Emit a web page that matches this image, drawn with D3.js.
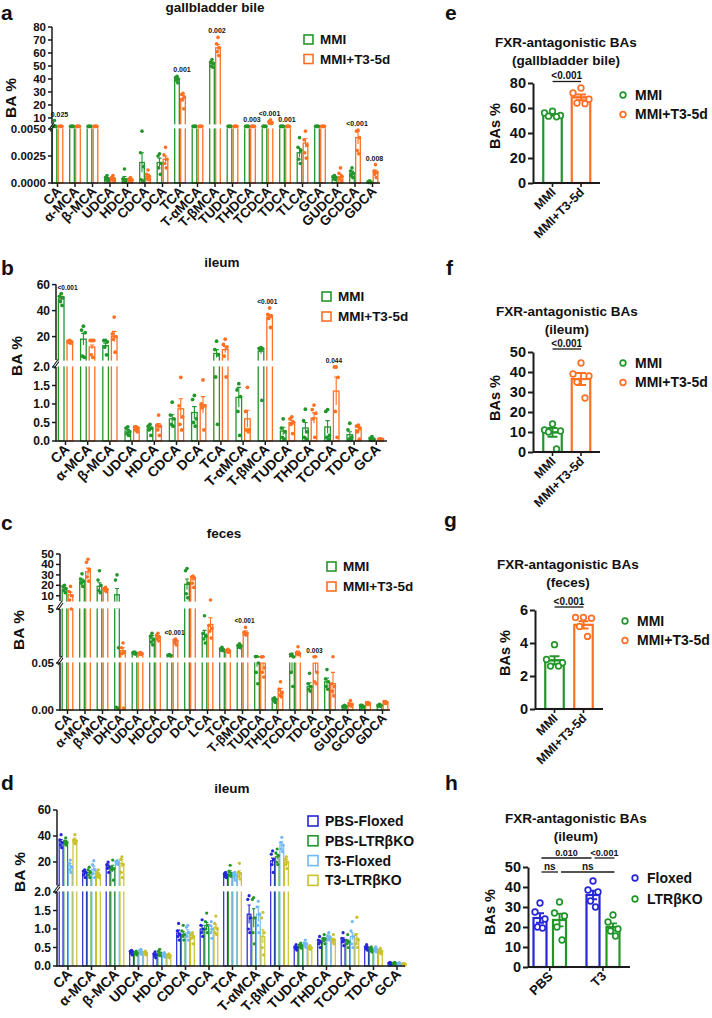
<!DOCTYPE html>
<html>
<head>
<meta charset="utf-8">
<script src="https://cdn.jsdelivr.net/npm/d3@7"></script>
<style>
body { margin: 0; background: #fff; }
svg text { font-family: "Liberation Sans", Arial, sans-serif; font-weight: bold; fill: #111; }
</style>
</head>
<body>
<svg id="fig" width="712" height="1018"></svg>
<script>
// ---------- panel a : gallbladder bile ----------
const aCats = ["CA", "α-MCA", "β-MCA", "UDCA", "HDCA", "CDCA", "DCA", "TCA", "T-αMCA", "T-βMCA", "TUDCA", "THDCA", "TCDCA", "TDCA", "TLCA", "GCA", "GUDCA", "GCDCA", "GDCA"];
const aMMIMean = [3.5, 2.3, 3, 0.0004, 0.0004, 0.0019, 0.0019, 40, 2.2, 52, 2, 2, 2.5, 2, 0.0028, 2, 0.0005, 0.0009, 0.0001];
const aMMISem = [1, 0.3, 0.4, 0.0001, 0.0002, 0.0009, 0.0004, 1.5, 0.2, 1, 0.2, 0.2, 0.2, 0.2, 0.0004, 0.2, 0.0001, 0.0002, 0.00003];
const aMMIPts = [[8, 3, 2.5, 2.2, 2], [2.6, 2.4, 2.2, 2.1, 2], [4, 3, 2.6, 2.3, 2.1], [0.0007, 0.0005, 0.0004, 0.0003, 0.0002],
  [0.0013, 0.0004, 0.0003, 0.0002, 0.0001], [0.0048, 0.0028, 0.0015, 0.0003, 0.0002], [0.0027, 0.0025, 0.0018, 0.0014, 0.0008],
  [42, 41, 40, 39, 37], [2.5, 2.3, 2.2, 2.1, 2], [55, 53, 52, 50, 49], [2.2, 2.1, 2, 2, 1.9], [2.2, 2.1, 2, 2, 1.9],
  [3, 2.6, 2.5, 2.4, 2.2], [2.2, 2.1, 2, 2, 1.9], [0.0042, 0.0033, 0.003, 0.0022, 0.0018], [2.2, 2.1, 2, 2, 1.9],
  [0.0007, 0.0006, 0.0005, 0.0004, 0.0003], [0.0014, 0.0011, 0.0009, 0.0007, 0.0005], [0.0002, 0.0001, 0.0001, 0.00005, 0.00003]];
const aT3Mean = [1.8, 1.7, 1.7, 0.0004, 0.0003, 0.0006, 0.0022, 25, 1.8, 64, 2, 3, 6.6, 2.5, 0.0037, 2, 0.0006, 0.0042, 0.001];
const aT3Sem = [0.1, 0.1, 0.1, 0.0001, 0.00005, 0.0002, 0.0003, 2.5, 0.1, 2.5, 0.1, 0.2, 0.4, 0.1, 0.0004, 0.1, 0.0002, 0.0006, 0.0002];
const aT3Pts = [[1.9, 1.8, 1.8, 1.7, 1.7], [1.8, 1.7, 1.7, 1.6, 1.6], [1.8, 1.7, 1.7, 1.6, 1.6], [0.0007, 0.0005, 0.0004, 0.0003, 0.0002],
  [0.0005, 0.0004, 0.0003, 0.0002, 0.0002], [0.0012, 0.0008, 0.0006, 0.0004, 0.0003], [0.0033, 0.0026, 0.0022, 0.0018, 0.0014],
  [29, 28, 26, 24, 17], [1.9, 1.8, 1.8, 1.7, 1.7], [72, 67, 64, 61, 58], [2.2, 2.1, 2, 2, 1.9], [3.4, 3.2, 3, 2.8, 2.6],
  [8.5, 7.2, 6.4, 5.9, 5.6], [2.8, 2.6, 2.5, 2.4, 2.3], [0.0048, 0.004, 0.0035, 0.0028, 0.0023], [2.2, 2.1, 2, 2, 1.9],
  [0.0014, 0.0009, 0.0006, 0.0004, 0.0002], [0.0049, 0.0048, 0.0042, 0.003, 0.0027], [0.0017, 0.0011, 0.001, 0.0008, 0.0005]];
const aPCats = ["CA", "TCA", "T-βMCA", "THDCA", "TCDCA", "TDCA", "GCDCA", "GDCA"];
const aPText = ["0.025", "0.001", "0.002", "0.003", "<0.001", "0.001", "<0.001", "0.008"];

// ---------- panel b : ileum ----------
const bCats = ["CA", "α-MCA", "β-MCA", "UDCA", "HDCA", "CDCA", "DCA", "TCA", "T-αMCA", "T-βMCA", "TUDCA", "THDCA", "TCDCA", "TDCA", "GCA"];
const bMMIMean = [49, 18, 13, 0.27, 0.33, 0.6, 0.77, 7, 1.18, 8.8, 0.27, 0.35, 0.38, 0.17, 0.06];
const bMMISem = [1.8, 4.5, 2, 0.04, 0.05, 0.11, 0.16, 3, 0.27, 2, 0.1, 0.15, 0.17, 0.08, 0.02];
const bMMIPts = [[53, 51, 50, 47, 44], [28, 25, 23, 5, 4], [17, 17, 16, 12, 6], [0.38, 0.35, 0.25, 0.2, 0.15], [0.45, 0.4, 0.35, 0.3, 0.15],
  [1.05, 0.7, 0.6, 0.45, 0.4], [1.23, 1.12, 0.6, 0.5, 0.4], [16.5, 10, 6, 1.73, 0.45], [1.55, 1.38, 1.2, 0.8, 0.15],
  [11.5, 11, 10.5, 10, 1.1], [0.6, 0.35, 0.25, 0.1, 0.05], [0.86, 0.55, 0.25, 0.1, 0.05], [0.85, 0.8, 0.15, 0.1, 0.05],
  [0.48, 0.3, 0.1, 0.05, 0.02], [0.12, 0.08, 0.05, 0.03, 0.02]];
const bT3Mean = [16, 12, 20, 0.32, 0.38, 0.87, 0.98, 10, 0.6, 35, 0.5, 0.62, 1.35, 0.3, 0.04];
const bT3Sem = [0.4, 1.5, 4, 0.03, 0.09, 0.27, 0.22, 2.5, 0.23, 2, 0.06, 0.14, 0.38, 0.07, 0.01];
const bT3Pts = [[17, 16.5, 16, 15.5, 15], [17, 17, 17, 6, 4], [35, 22, 20, 18, 8], [0.38, 0.38, 0.35, 0.3, 0.25], [0.7, 0.42, 0.4, 0.3, 0.15],
  [1.72, 0.95, 0.65, 0.45, 0.3], [1.65, 1.0, 0.95, 0.9, 0.3], [18, 14, 12, 5, 1.73], [1.45, 0.8, 0.3, 0.3, 0.25],
  [42, 37, 36, 34, 27], [0.65, 0.6, 0.5, 0.45, 0.2], [0.97, 0.85, 0.75, 0.6, 0.1], [2, 2, 1.72, 0.8, 0.1],
  [0.43, 0.4, 0.35, 0.25, 0.05], [0.06, 0.05, 0.04, 0.03, 0.02]];
const bPCats = ["CA", "T-βMCA", "TCDCA"];
const bPText = ["<0.001", "<0.001", "0.044"];

// ---------- panel c : feces ----------
const cCats = ["CA", "α-MCA", "β-MCA", "DHCA", "UDCA", "HDCA", "CDCA", "DCA", "LCA", "TCA", "T-βMCA", "TUDCA", "THDCA", "TCDCA", "TDCA", "GCA", "GUDCA", "GCDCA", "GDCA"];
const cMMIMean = [16.5, 24, 19, 11, 0.45, 2.0, 0.22, 21, 2.4, 0.85, 1.2, 0.058, 0.011, 0.1, 0.025, 0.03, 0.004, 0.004, 0.005];
const cMMISem = [1.2, 2, 3.5, 6, 0.04, 0.25, 0.03, 5, 0.4, 0.08, 0.1, 0.012, 0.001, 0.06, 0.004, 0.004, 0.0005, 0.0005, 0.0005];
const cMMIPts = [[20, 19, 17, 15, 13], [31, 26, 24, 22, 19], [34, 25, 20, 15, 13], [30, 25, 1.0, 0.003, 0.002], [0.55, 0.5, 0.45, 0.4, 0.35],
  [2.5, 2.2, 1.8, 1.6, 1.3], [0.3, 0.25, 0.2, 0.2, 0.15], [36, 34, 22, 12, 8], [4.3, 2.5, 2.2, 1.9, 1.5], [1.05, 0.9, 0.8, 0.75, 0.7],
  [1.4, 1.25, 1.2, 1.05, 1.0], [0.1, 0.09, 0.05, 0.04, 0.028], [0.013, 0.012, 0.011, 0.01, 0.008], [0.35, 0.3, 0.06, 0.04, 0.025],
  [0.039, 0.028, 0.025, 0.022, 0.02], [0.043, 0.033, 0.03, 0.025, 0.022], [0.005, 0.004, 0.004, 0.003, 0.003],
  [0.005, 0.005, 0.004, 0.003, 0.003], [0.006, 0.005, 0.005, 0.004, 0.004]];
const cT3Mean = [11, 33, 16, 0.7, 0.4, 2.1, 1.65, 26, 3.4, 0.7, 2.6, 0.05, 0.02, 0.5, 0.05, 0.028, 0.006, 0.007, 0.008];
const cT3Sem = [2.5, 3.5, 0.8, 0.3, 0.04, 0.15, 0.1, 2, 0.7, 0.06, 0.15, 0.008, 0.003, 0.16, 0.01, 0.012, 0.001, 0.0005, 0.0005];
const cT3Pts = [[19, 14, 10, 6, 5], [45, 42, 35, 28, 24], [18, 17, 16, 15, 14], [1.5, 1.0, 0.5, 0.4, 0.002], [0.5, 0.45, 0.4, 0.35, 0.3],
  [2.5, 2.3, 2.1, 1.9, 1.7], [1.9, 1.8, 1.7, 1.5, 1.3], [29, 28, 27, 22, 18], [6, 3.3, 3.0, 2.7, 2.0], [0.85, 0.75, 0.7, 0.6, 0.55],
  [3.1, 2.6, 2.5, 2.4, 2.3], [0.08, 0.06, 0.045, 0.04, 0.035], [0.03, 0.022, 0.018, 0.016, 0.014], [1.1, 0.5, 0.4, 0.35, 0.3],
  [0.08, 0.07, 0.04, 0.03, 0.028], [0.08, 0.028, 0.025, 0.02, 0.015], [0.01, 0.007, 0.006, 0.005, 0.004],
  [0.008, 0.008, 0.007, 0.006, 0.006], [0.009, 0.009, 0.008, 0.007, 0.007]];
const cPCats = ["CDCA", "T-βMCA", "TDCA"];
const cPText = ["<0.001", "<0.001", "0.003"];

// ---------- panel d : ileum, 4 groups ----------
const dCats = bCats;
const dPBSFloxMean = [35.5, 11.5, 17, 0.37, 0.3, 0.89, 1.0, 10, 1.4, 21, 0.5, 0.65, 0.7, 0.5, 0.07];
const dPBSFloxSem = [1.8, 1.2, 1.5, 0.03, 0.03, 0.08, 0.1, 0.7, 0.25, 2, 0.03, 0.05, 0.06, 0.03, 0.01];
const dPBSFloxPts = [[41, 37, 35, 33, 31], [14, 13, 12, 10, 8], [20, 18, 16, 15, 12], [0.42, 0.4, 0.38, 0.35, 0.3], [0.38, 0.33, 0.3, 0.27, 0.22],
  [1.15, 0.95, 0.85, 0.8, 0.7], [1.25, 1.1, 1.0, 0.9, 0.8], [12, 11, 10, 9, 8], [1.9, 1.8, 1.3, 1.0, 0.9], [28.5, 26, 22, 18, 12],
  [0.58, 0.52, 0.5, 0.47, 0.43], [0.8, 0.7, 0.65, 0.6, 0.5], [0.9, 0.75, 0.7, 0.65, 0.55], [0.58, 0.52, 0.5, 0.47, 0.43], [0.1, 0.08, 0.07, 0.06, 0.05]];
const dPBSKOMean = [35.5, 12, 15, 0.35, 0.35, 0.85, 1.1, 12, 1.3, 24, 0.55, 0.72, 0.65, 0.45, 0.07];
const dPBSKOSem = [1, 1.5, 2.5, 0.03, 0.03, 0.08, 0.08, 1.3, 0.25, 2, 0.03, 0.05, 0.05, 0.03, 0.01];
const dPBSKOPts = [[38.5, 36, 35, 34, 33], [16, 14, 12, 10, 8], [21.5, 16, 15, 14, 6], [0.4, 0.37, 0.35, 0.33, 0.3], [0.45, 0.4, 0.35, 0.3, 0.28],
  [1.1, 0.95, 0.85, 0.8, 0.7], [1.43, 1.2, 1.1, 1.0, 0.9], [17.5, 13, 11, 10, 9], [1.85, 1.8, 1.3, 0.9, 0.6], [30, 27, 25, 20, 18],
  [0.62, 0.57, 0.55, 0.52, 0.48], [0.85, 0.75, 0.72, 0.68, 0.6], [0.85, 0.7, 0.65, 0.6, 0.5], [0.52, 0.47, 0.45, 0.42, 0.38], [0.1, 0.08, 0.07, 0.06, 0.05]];
const dT3FloxMean = [17, 14.5, 20, 0.38, 0.3, 0.9, 1.0, 9.5, 1.4, 33, 0.6, 0.78, 0.8, 0.45, 0.06];
const dT3FloxSem = [2, 2.3, 0.6, 0.03, 0.03, 0.08, 0.08, 1.2, 0.2, 2.5, 0.04, 0.05, 0.1, 0.03, 0.01];
const dT3FloxPts = [[21.5, 19, 16, 14, 12], [21, 18, 14, 11, 8], [21, 20.5, 20, 19, 18], [0.45, 0.42, 0.38, 0.35, 0.32], [0.36, 0.33, 0.3, 0.27, 0.24],
  [1.1, 1.05, 0.9, 0.8, 0.7], [1.2, 1.1, 1.0, 0.9, 0.75], [12, 11, 10, 8, 6], [1.75, 1.6, 1.4, 1.1, 0.9], [39, 35, 33, 30, 28],
  [0.7, 0.62, 0.6, 0.55, 0.5], [0.9, 0.82, 0.78, 0.72, 0.7], [1.2, 0.95, 0.8, 0.6, 0.5], [0.52, 0.47, 0.45, 0.42, 0.38], [0.09, 0.07, 0.06, 0.05, 0.04]];
const dT3KOMean = [37, 10.5, 19, 0.35, 0.28, 0.78, 1.05, 11.5, 0.8, 20, 0.5, 0.7, 0.75, 0.4, 0.05];
const dT3KOSem = [1.5, 1.2, 3, 0.03, 0.03, 0.06, 0.08, 1.8, 0.18, 2, 0.03, 0.05, 0.12, 0.03, 0.01];
const dT3KOPts = [[41, 37, 36, 35, 34], [14, 12, 10, 9, 8], [24, 22, 18, 12, 8], [0.4, 0.37, 0.35, 0.33, 0.3], [0.33, 0.3, 0.28, 0.26, 0.22],
  [0.9, 0.85, 0.8, 0.75, 0.6], [1.35, 1.15, 1.0, 0.9, 0.85], [19, 12, 11, 9, 7], [1.45, 1.3, 0.9, 0.5, 0.3], [24, 22, 20, 18, 15],
  [0.55, 0.52, 0.5, 0.47, 0.45], [0.85, 0.72, 0.7, 0.65, 0.6], [1.32, 0.85, 0.7, 0.6, 0.5], [0.48, 0.42, 0.4, 0.37, 0.33], [0.07, 0.06, 0.05, 0.04, 0.03]];
const dGroups = ["PBS-Floxed", "PBS-LTRβKO", "T3-Floxed", "T3-LTRβKO"];

// ---------- panels e-h : FXR-antagonistic BAs ----------
const smallGroups = ["MMI", "MMI+T3-5d"];
const eMean = [54.5, 68.5], eSem = [0.8, 2.3];
const ePts = [[57.5, 56, 54, 53.5, 53], [76, 72, 67, 64, 63.5]];
const fMean = [9.8, 36.5], fSem = [2.2, 3];
const fPts = [[14, 11, 10.5, 10, 1.5], [44.5, 39, 38, 35, 27]];
const gMean = [2.95, 5.1], gSem = [0.25, 0.22];
const gPts = [[3.9, 3.0, 2.8, 2.6, 2.6], [5.55, 5.55, 5.5, 5.0, 4.4]];
const hTreat = ["PBS", "T3"];
const hGenotypes = ["Floxed", "LTRβKO"];
const hFloxMean = [24.5, 36], hFloxSem = [2.4, 2.1];
const hKOMean = [23.5, 20], hKOSem = [3.2, 1.8];
const hFloxPts = [[32, 27.5, 24, 20, 19.5], [43, 38.5, 37.5, 33, 30]];
const hKOPts = [[32.5, 27, 25.5, 20, 13.5], [26, 22.5, 19, 18, 15.5]];
const hSigText = ["0.010", "<0.001", "ns", "ns"];
const sigMain = "<0.001";

const GREEN = "#23962b", ORANGE = "#ff7024", BLUE = "#2626d8", LBLUE = "#72b8f6", OLIVE = "#c9c22e";
const svg = d3.select("#fig");
svg.append("rect").attr("width", 712).attr("height", 1018).attr("fill", "#fff");

function makeY(segs) {
  const scales = segs.map(s => d3.scaleLinear().domain(s.domain).range(s.range));
  return v => {
    for (let i = 0; i < segs.length; i++) {
      const s = segs[i];
      if (v >= s.domain[0] && v <= s.domain[1]) return scales[i](v);
      if (i < segs.length - 1 && v > s.domain[1] && v < segs[i + 1].domain[0])
        return (s.range[1] + segs[i + 1].range[0]) / 2;
    }
    return v < segs[0].domain[0] ? segs[0].range[0] : scales[segs.length - 1](v);
  };
}

function txt(g, x, y, s, size, anchor) {
  return g.append("text").attr("x", x).attr("y", y).attr("font-size", size)
    .attr("text-anchor", anchor || "start").text(s);
}

function breakChart(o) {
  const g = svg.append("g");
  const y = makeY(o.segs);
  const x = d3.scalePoint().domain(o.cats).range([o.x0, o.x0 + o.step * (o.cats.length - 1)]);
  const base = o.segs[0].range[0];
  const jit = [0, -1, 1, -0.5, 0.5];

  o.series.forEach((s, si) => {
    const off = o.offsets[si];
    const bg = g.append("g");
    bg.selectAll("rect").data(s.mean).join("rect")
      .attr("x", (d, i) => x(o.cats[i]) + off - o.barW / 2)
      .attr("y", d => y(d))
      .attr("width", o.barW)
      .attr("height", d => base - y(d))
      .attr("fill", "#fff").attr("stroke", s.color).attr("stroke-width", o.sw);
    const eb = s.mean.map((m, i) => ({ cx: x(o.cats[i]) + off, lo: y(Math.max(0, m - s.sem[i])), hi: y(m + s.sem[i]) }));
    bg.selectAll("path").data(eb).join("path")
      .attr("d", d => `M${d.cx},${d.lo}V${d.hi}M${d.cx - o.cap},${d.hi}H${d.cx + o.cap}`)
      .attr("stroke", s.color).attr("stroke-width", 1.1).attr("fill", "none");
  });

  // white gaps for the axis breaks
  for (let i = 0; i < o.segs.length - 1; i++) {
    const top = o.segs[i + 1].range[0], bot = o.segs[i].range[1];
    g.append("rect").attr("x", o.axisX - 8).attr("y", top + 0.6).attr("width", o.axisEnd - o.axisX + 8)
      .attr("height", bot - top - 1.2).attr("fill", "#fff");
  }

  o.series.forEach((s, si) => {
    const pts = s.pts.flatMap((arr, i) => arr.map((v, j) => ({ cx: x(o.cats[i]) + o.offsets[si] + jit[j] * o.jw, cy: y(v) })));
    g.append("g").selectAll("circle").data(pts).join("circle")
      .attr("cx", d => d.cx).attr("cy", d => d.cy).attr("r", o.r).attr("fill", s.color);
  });

  // y axis, one piece per segment
  const ax = g.append("g").attr("stroke", "#1a1a1a").attr("stroke-width", 1.5).attr("fill", "none");
  o.segs.forEach(sg => {
    ax.append("line").attr("x1", o.axisX).attr("x2", o.axisX).attr("y1", sg.range[0] + (sg === o.segs[0] ? 0.7 : 0)).attr("y2", sg.range[1]);
    sg.ticks.forEach(t => {
      ax.append("line").attr("x1", o.axisX - 4).attr("x2", o.axisX).attr("y1", y(t)).attr("y2", y(t));
      txt(g, o.axisX - 6, y(t), d3.format(sg.fmt)(t), o.tickFont, "end").attr("dy", "0.35em");
    });
  });
  for (let i = 0; i < o.segs.length - 1; i++) {
    const mid = (o.segs[i].range[1] + o.segs[i + 1].range[0]) / 2;
    ax.append("path").attr("d", `M${o.axisX - 3},${mid + 3}L${o.axisX + 2},${mid - 4}M${o.axisX - 2},${mid + 5}L${o.axisX + 3},${mid - 2}`)
      .attr("stroke-width", 1.1);
  }

  // x axis
  ax.append("line").attr("x1", o.axisX).attr("x2", o.axisEnd).attr("y1", base).attr("y2", base);
  o.cats.forEach(c => {
    ax.append("line").attr("x1", x(c)).attr("x2", x(c)).attr("y1", base).attr("y2", base + 4);
    g.append("text").attr("font-size", o.labFont).attr("text-anchor", "end")
      .attr("transform", `translate(${x(c) + o.labDx},${base + o.labDy}) rotate(-45)`).text(c);
  });

  // p values above the highest point
  o.pCats.forEach((c, k) => {
    const i = o.cats.indexOf(c);
    const top = d3.min(o.series, s => Math.min(y(d3.max(s.pts[i])), y(s.mean[i] + s.sem[i])));
    txt(g, x(c) + 2, top - 4, o.pText[k], o.pFont, "middle");
  });

  // labels, title, legend
  txt(g, o.letter[1], o.letter[2], o.letter[0], 21);
  txt(g, o.title[1], o.title[2], o.title[0], 13.5, "middle");
  g.append("text").attr("font-size", 15.5).attr("text-anchor", "middle").attr("dy", "0.35em")
    .attr("transform", `translate(${o.ylab[0]},${o.ylab[1]}) rotate(-90)`).text("BA %");
  o.series.forEach((s, si) => {
    const ly = o.legend.y + si * o.legend.dy;
    g.append("rect").attr("x", o.legend.x).attr("y", ly - o.legend.sq).attr("width", o.legend.sq).attr("height", o.legend.sq)
      .attr("fill", "#fff").attr("stroke", s.color).attr("stroke-width", 1.6);
    txt(g, o.legend.x + o.legend.sq + 7, ly, s.name, o.legend.font);
  });
}

breakChart({
  cats: aCats, x0: 57.5, step: 17.5, offsets: [-3, 3], barW: 4.6, sw: 1.3, cap: 2, r: 1.8, jw: 1.5,
  segs: [{ domain: [0, 0.005], range: [183, 129], ticks: [0, 0.0025, 0.005], fmt: ".4f" },
         { domain: [5.5, 80], range: [123.8, 27], ticks: [10, 20, 30, 40, 50, 60, 70, 80], fmt: "d" }],
  axisX: 52, axisEnd: 380, tickFont: 11.5, labFont: 13.5, labDx: 5, labDy: 9,
  series: [{ name: "MMI", color: GREEN, mean: aMMIMean, sem: aMMISem, pts: aMMIPts },
           { name: "MMI+T3-5d", color: ORANGE, mean: aT3Mean, sem: aT3Sem, pts: aT3Pts }],
  pCats: aPCats, pText: aPText, pFont: 7,
  letter: ["a", 1, 20], title: ["gallbladder bile", 215, 12], ylab: [11, 98],
  legend: { x: 304, y: 44, dy: 19.5, sq: 9, font: 13.5 }
});

breakChart({
  cats: bCats, x0: 65.5, step: 22.2, offsets: [-4.3, 4.3], barW: 5.6, sw: 1.3, cap: 2.2, r: 1.9, jw: 1.8,
  segs: [{ domain: [0, 2], range: [441, 367], ticks: [0, 0.5, 1, 1.5, 2], fmt: ".1f" },
         { domain: [2, 60], range: [360, 284.6], ticks: [20, 40, 60], fmt: "d" }],
  axisX: 56, axisEnd: 387, tickFont: 12, labFont: 14, labDx: 5, labDy: 9,
  series: [{ name: "MMI", color: GREEN, mean: bMMIMean, sem: bMMISem, pts: bMMIPts },
           { name: "MMI+T3-5d", color: ORANGE, mean: bT3Mean, sem: bT3Sem, pts: bT3Pts }],
  pCats: bPCats, pText: bPText, pFont: 6.5,
  letter: ["b", 1, 275], title: ["ileum", 222, 267], ylab: [17, 356],
  legend: { x: 322, y: 301, dy: 20, sq: 9, font: 13.5 }
});

breakChart({
  cats: cCats, x0: 67.5, step: 17.5, offsets: [-3, 3], barW: 4.6, sw: 1.3, cap: 2, r: 1.8, jw: 1.5,
  segs: [{ domain: [0, 0.05], range: [710, 663], ticks: [0, 0.05], fmt: ".2f" },
         { domain: [0.05, 5], range: [657, 609], ticks: [5], fmt: "d" },
         { domain: [5, 50], range: [601, 554], ticks: [10, 20, 30, 40, 50], fmt: "d" }],
  axisX: 60, axisEnd: 390, tickFont: 11.5, labFont: 13, labDx: 5, labDy: 9,
  series: [{ name: "MMI", color: GREEN, mean: cMMIMean, sem: cMMISem, pts: cMMIPts },
           { name: "MMI+T3-5d", color: ORANGE, mean: cT3Mean, sem: cT3Sem, pts: cT3Pts }],
  pCats: cPCats, pText: cPText, pFont: 6.5,
  letter: ["c", 1, 530], title: ["feces", 224, 538], ylab: [19, 630],
  legend: { x: 327, y: 571, dy: 20, sq: 9, font: 13.5 }
});

breakChart({
  cats: dCats, x0: 68, step: 23.5, offsets: [-6.9, -2.3, 2.3, 6.9], barW: 3.8, sw: 1.2, cap: 1.6, r: 1.6, jw: 1.3,
  segs: [{ domain: [0, 2], range: [966, 892], ticks: [0, 0.5, 1, 1.5, 2], fmt: ".1f" },
         { domain: [2, 60], range: [885.4, 810], ticks: [20, 40, 60], fmt: "d" }],
  axisX: 57, axisEnd: 405, tickFont: 12, labFont: 14, labDx: 5, labDy: 9,
  series: [{ name: dGroups[0], color: BLUE, mean: dPBSFloxMean, sem: dPBSFloxSem, pts: dPBSFloxPts },
           { name: dGroups[1], color: GREEN, mean: dPBSKOMean, sem: dPBSKOSem, pts: dPBSKOPts },
           { name: dGroups[2], color: LBLUE, mean: dT3FloxMean, sem: dT3FloxSem, pts: dT3FloxPts },
           { name: dGroups[3], color: OLIVE, mean: dT3KOMean, sem: dT3KOSem, pts: dT3KOPts }],
  pCats: [], pText: [], pFont: 7,
  letter: ["d", 1, 790], title: ["ileum", 232, 793], ylab: [20, 872],
  legend: { x: 308, y: 826, dy: 19.8, sq: 10, font: 14 }
});

// ---------- small bar charts ----------
function smallChart(o) {
  const g = svg.append("g");
  const y = d3.scaleLinear().domain(o.domain).range([o.y0, o.yTop]);
  const jit = [0, -1, 1, -0.5, 0.5];
  o.bars.forEach(b => {
    g.append("rect").attr("x", b.cx - o.bw / 2).attr("y", y(b.mean)).attr("width", o.bw).attr("height", o.y0 - y(b.mean))
      .attr("fill", "#fff").attr("stroke", b.color).attr("stroke-width", 2.2);
    g.append("path").attr("d", `M${b.cx},${y(b.mean - b.sem)}V${y(b.mean + b.sem)}M${b.cx - o.cap},${y(b.mean + b.sem)}H${b.cx + o.cap}M${b.cx - o.cap},${y(b.mean - b.sem)}H${b.cx + o.cap}M${b.cx - o.cap * 1.6},${y(b.mean)}H${b.cx + o.cap * 1.6}`)
      .attr("stroke", b.color).attr("stroke-width", 1.9).attr("fill", "none");
    g.append("g").selectAll("circle").data(b.pts).join("circle")
      .attr("cx", (d, j) => b.cx + jit[j] * o.jw).attr("cy", d => y(d)).attr("r", 2.8)
      .attr("fill", "#fff").attr("stroke", b.color).attr("stroke-width", 1.7);
  });
  const yAxis = g.append("g").attr("transform", `translate(${o.axisX},0)`)
    .call(d3.axisLeft(y).tickValues(o.ticks).tickSize(5).tickSizeOuter(0).tickFormat(d3.format("d")));
  yAxis.select(".domain").attr("stroke", "#1a1a1a").attr("stroke-width", 2);
  yAxis.selectAll(".tick line").attr("stroke", "#1a1a1a").attr("stroke-width", 2);
  yAxis.selectAll(".tick text").attr("font-size", 14.5).attr("font-family", null).attr("fill", "#111").attr("x", -7);
  g.append("line").attr("x1", o.axisX).attr("x2", o.xEnd).attr("y1", o.y0).attr("y2", o.y0)
    .attr("stroke", "#1a1a1a").attr("stroke-width", 2);
  o.xTicks.forEach(t => {
    g.append("line").attr("x1", t.x).attr("x2", t.x).attr("y1", o.y0).attr("y2", o.y0 + 4).attr("stroke", "#1a1a1a").attr("stroke-width", 1.6);
    g.append("text").attr("font-size", o.xFont || 12.5).attr("text-anchor", "end")
      .attr("transform", `translate(${t.x + 4},${o.y0 + 10}) rotate(-45)`).text(t.label);
  });
  o.sig.forEach(s => {
    g.append("line").attr("x1", s.x1).attr("x2", s.x2).attr("y1", s.y).attr("y2", s.y).attr("stroke", "#1a1a1a").attr("stroke-width", 1.3);
    txt(g, (s.x1 + s.x2) / 2, s.y - 2.5, s.text, s.font || 10, "middle");
  });
  txt(g, o.letter[1], o.letter[2], o.letter[0], 21);
  o.title.forEach((t, i) => txt(g, o.titleX, o.titleY + i * 17.5, t, 13.5, "middle"));
  g.append("text").attr("font-size", 14.5).attr("text-anchor", "middle").attr("dy", "0.35em")
    .attr("transform", `translate(${o.ylab[0]},${o.ylab[1]}) rotate(-90)`).text("BAs %");
  o.legend.items.forEach((it, i) => {
    const ly = o.legend.y + i * o.legend.dy;
    g.append("circle").attr("cx", o.legend.x).attr("cy", ly).attr("r", 2.8).attr("fill", "#fff")
      .attr("stroke", it.color).attr("stroke-width", 1.7);
    txt(g, o.legend.x + 12, ly, it.name, 14).attr("dy", "0.35em");
  });
}

function mmiChart(mean, sem, pts, cfg) {
  smallChart(Object.assign({
    bw: 18.5, cap: 5, jw: 8,
    bars: [{ cx: cfg.cx[0], mean: mean[0], sem: sem[0], pts: pts[0], color: GREEN },
           { cx: cfg.cx[1], mean: mean[1], sem: sem[1], pts: pts[1], color: ORANGE }],
    xTicks: [{ x: cfg.cx[0], label: smallGroups[0] }, { x: cfg.cx[1], label: smallGroups[1] }],
    sig: [{ x1: cfg.cx[0], x2: cfg.cx[1], y: cfg.sigY, text: sigMain }],
    legend: { x: cfg.legX, y: cfg.legY, dy: 19.5, items: [{ name: smallGroups[0], color: GREEN }, { name: smallGroups[1], color: ORANGE }] }
  }, cfg));
}

mmiChart(eMean, eSem, ePts, {
  cx: [552.5, 581], domain: [0, 80], ticks: [0, 20, 40, 60, 80], y0: 183, yTop: 83, axisX: 533, xEnd: 600,
  sigY: 81.5, letter: ["e", 445, 20], title: ["FXR-antagonistic BAs", "(gallbladder bile)"], titleX: 566, titleY: 47,
  ylab: [495, 126], legX: 623, legY: 95
});
mmiChart(fMean, fSem, fPts, {
  cx: [552.5, 581], domain: [0, 50], ticks: [0, 10, 20, 30, 40, 50], y0: 452, yTop: 352, axisX: 533, xEnd: 600,
  sigY: 349, letter: ["f", 446, 275], title: ["FXR-antagonistic BAs", "(ileum)"], titleX: 567, titleY: 316,
  ylab: [495, 398], legX: 623, legY: 363
});
mmiChart(gMean, gSem, gPts, {
  cx: [554.5, 583.5], domain: [0, 6], ticks: [0, 2, 4, 6], y0: 709, yTop: 610, axisX: 535, xEnd: 603,
  sigY: 607, letter: ["g", 444, 527], title: ["FXR-antagonistic BAs", "(feces)"], titleX: 568, titleY: 569,
  ylab: [505, 653], legX: 625, legY: 621
});

const hCx = [540, 559.5, 593, 613];
smallChart({
  bw: 13, cap: 4, jw: 5, domain: [0, 50], ticks: [0, 10, 20, 30, 40, 50], y0: 967, yTop: 867, axisX: 528, xEnd: 630, xFont: 13,
  bars: [{ cx: hCx[0], mean: hFloxMean[0], sem: hFloxSem[0], pts: hFloxPts[0], color: BLUE },
         { cx: hCx[1], mean: hKOMean[0], sem: hKOSem[0], pts: hKOPts[0], color: GREEN },
         { cx: hCx[2], mean: hFloxMean[1], sem: hFloxSem[1], pts: hFloxPts[1], color: BLUE },
         { cx: hCx[3], mean: hKOMean[1], sem: hKOSem[1], pts: hKOPts[1], color: GREEN }],
  xTicks: [{ x: (hCx[0] + hCx[1]) / 2, label: hTreat[0] }, { x: (hCx[2] + hCx[3]) / 2, label: hTreat[1] }],
  sig: [{ x1: hCx[0] + 1.5, x2: hCx[2] - 1.5, y: 858, text: hSigText[0], font: 9 },
        { x1: hCx[2] + 1.5, x2: hCx[3] + 1.5, y: 858, text: hSigText[1], font: 9 },
        { x1: hCx[0] + 1.5, x2: hCx[1] - 1.5, y: 872, text: hSigText[2], font: 10 },
        { x1: hCx[1] + 1.5, x2: hCx[3] + 1.5, y: 872, text: hSigText[3], font: 10 }],
  letter: ["h", 445, 790], title: ["FXR-antagonistic BAs", "(ileum)"], titleX: 576, titleY: 823,
  ylab: [490, 912],
  legend: { x: 635, y: 878, dy: 21, items: [{ name: hGenotypes[0], color: BLUE }, { name: hGenotypes[1], color: GREEN }] }
});
</script>
</body>
</html>
